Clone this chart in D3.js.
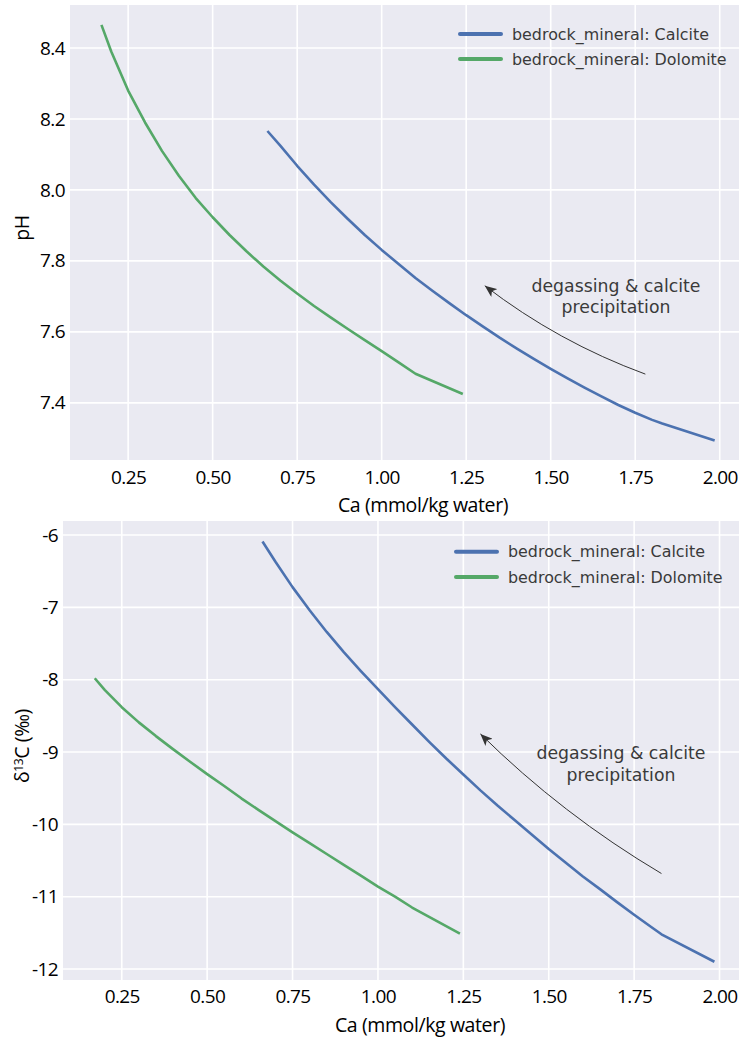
<!DOCTYPE html>
<html>
<head>
<meta charset="utf-8">
<script src="https://cdn.jsdelivr.net/npm/d3@7"></script>
<style>
  body { margin: 0; background: #fff; }
  .tick-label { font-family: "Open Sans", sans-serif; font-size: 19px; letter-spacing: -0.6px; fill: #000; }
  .axis-label { font-family: "Open Sans", sans-serif; font-size: 19.5px; letter-spacing: -0.4px; fill: #000; }
  .legend-text { font-family: "DejaVu Sans", sans-serif; font-size: 15.9px; fill: #3a3a3a; }
  .note-text { font-family: "DejaVu Sans", sans-serif; font-size: 17.3px; fill: #3a3a3a; }
</style>
</head>
<body>
<div id="chart"></div>
<script>
// x values (Ca, mmol/kg water)
const caCalcite = [0.662, 0.70, 0.75, 0.80, 0.85, 0.90, 0.95, 1.00, 1.05, 1.10, 1.15, 1.20, 1.25, 1.30,
  1.35, 1.40, 1.45, 1.50, 1.55, 1.60, 1.65, 1.70, 1.75, 1.80, 1.83, 1.985];
const caDolomite = [0.171, 0.20, 0.25, 0.30, 0.35, 0.40, 0.45, 0.50, 0.55, 0.60, 0.65, 0.70, 0.75, 0.80,
  0.85, 0.90, 0.95, 1.00, 1.05, 1.10, 1.24];
// pH
const phCalcite = [8.166, 8.125, 8.068, 8.015, 7.965, 7.918, 7.873, 7.831, 7.791, 7.752, 7.716, 7.681, 7.647, 7.615,
  7.583, 7.553, 7.524, 7.496, 7.469, 7.443, 7.418, 7.394, 7.372, 7.352, 7.342, 7.294];
const phDolomite = [8.465, 8.39, 8.28, 8.19, 8.11, 8.04, 7.977, 7.923, 7.873, 7.827, 7.784, 7.745, 7.708, 7.673,
  7.640, 7.608, 7.577, 7.546, 7.514, 7.482, 7.425];
// d13C (permil)
const d13cCalcite = [-6.09, -6.37, -6.72, -7.04, -7.34, -7.62, -7.88, -8.13, -8.38, -8.62, -8.86, -9.09, -9.31, -9.53,
  -9.74, -9.94, -10.14, -10.34, -10.53, -10.72, -10.895, -11.075, -11.25, -11.42, -11.52, -11.90];
const d13cDolomite = [-7.98, -8.14, -8.38, -8.59, -8.78, -8.96, -9.135, -9.305, -9.47, -9.64, -9.80, -9.955, -10.11, -10.26,
  -10.41, -10.56, -10.71, -10.86, -11.00, -11.15, -11.51];
// ticks
const xTicks = [0.25, 0.50, 0.75, 1.00, 1.25, 1.50, 1.75, 2.00];
const phTicks = [7.4, 7.6, 7.8, 8.0, 8.2, 8.4];
const d13cTicks = [-12, -11, -10, -9, -8, -7, -6];
const seriesNames = ['bedrock_mineral: Calcite', 'bedrock_mineral: Dolomite'];
const colors = ['#4C72B0', '#55A868'];

const W = 739;
const H = 1040;

const svg = d3.select('#chart')
  .append('svg')
  .attr('width', W)
  .attr('height', H);

// arrowhead
svg.append('defs')
  .append('marker')
  .attr('id', 'head')
  .attr('viewBox', '0 0 12 10')
  .attr('refX', 12)
  .attr('refY', 5)
  .attr('markerWidth', 12)
  .attr('markerHeight', 10)
  .attr('markerUnits', 'userSpaceOnUse')
  .attr('orient', 'auto')
  .append('path')
  .attr('d', 'M0,0 L12,5 L0,10 L3,5 Z')
  .attr('fill', '#333');

function drawPanel(opt) {
  const x = d3.scaleLinear().domain([0.078, 2.057]).range([opt.left, opt.right]);
  const y = d3.scaleLinear().domain(opt.yDomain).range([opt.bottom, opt.top]);

  const g = svg.append('g');

  g.append('rect')
    .attr('x', opt.left)
    .attr('y', opt.top)
    .attr('width', opt.right - opt.left)
    .attr('height', opt.bottom - opt.top)
    .attr('fill', '#EAEAF2');

  // grid
  g.selectAll('.vgrid')
    .data(xTicks)
    .join('line')
    .attr('x1', (d) => x(d))
    .attr('x2', (d) => x(d))
    .attr('y1', opt.top)
    .attr('y2', opt.bottom)
    .attr('stroke', '#fff')
    .attr('stroke-width', 1.6);

  g.selectAll('.hgrid')
    .data(opt.yTicks)
    .join('line')
    .attr('x1', opt.left)
    .attr('x2', opt.right)
    .attr('y1', (d) => y(d))
    .attr('y2', (d) => y(d))
    .attr('stroke', '#fff')
    .attr('stroke-width', 1.6);

  // axes (tick labels only)
  const xAxis = d3.axisBottom(x).tickValues(xTicks).tickFormat(d3.format('.2f')).tickSize(0).tickPadding(opt.xPad);
  const yAxis = d3.axisLeft(y).tickValues(opt.yTicks).tickFormat(opt.yFormat).tickSize(0).tickPadding(opt.yPad);

  const gx = g.append('g').attr('transform', `translate(0, ${opt.bottom})`).call(xAxis);
  const gy = g.append('g').attr('transform', `translate(${opt.left}, 0)`).call(yAxis);
  [gx, gy].forEach((a) => {
    a.select('.domain').remove();
    a.selectAll('text').attr('class', 'tick-label').attr('fill', null);
    a.attr('font-size', null).attr('font-family', null);
  });

  // lines
  const line = d3.line().x((d) => x(d[0])).y((d) => y(d[1]));
  opt.series.forEach((s, i) => {
    g.append('path')
      .datum(d3.zip(s.xs, s.ys))
      .attr('d', line)
      .attr('fill', 'none')
      .attr('stroke', colors[i])
      .attr('stroke-width', 2.6)
      .attr('stroke-linejoin', 'round');
  });

  // legend
  seriesNames.forEach((name, i) => {
    const ly = opt.legendY + i * opt.legendGap;
    g.append('line')
      .attr('x1', opt.legendX)
      .attr('x2', opt.legendX + 41)
      .attr('y1', ly)
      .attr('y2', ly)
      .attr('stroke', colors[i])
      .attr('stroke-width', 4)
      .attr('stroke-linecap', 'round');
    g.append('text')
      .attr('class', 'legend-text')
      .attr('x', opt.legendX + 52)
      .attr('y', ly + 5.5)
      .text(name);
  });

  // annotation arrow, bowed a little below the straight path
  const a = opt.arrow;
  const x0 = x(a.from[0]), y0 = y(a.from[1]);
  const x1 = x(a.to[0]), y1 = y(a.to[1]);
  const len = Math.hypot(x1 - x0, y1 - y0);
  const mx = (x0 + x1) / 2 + ((y1 - y0) / len) * 14;
  const my = (y0 + y1) / 2 - ((x1 - x0) / len) * 14;
  g.append('path')
    .attr('d', `M${x0},${y0} Q${mx},${my} ${x1},${y1}`)
    .attr('fill', 'none')
    .attr('stroke', '#333')
    .attr('stroke-width', 1)
    .attr('marker-end', 'url(#head)');

  const note = g.append('text')
    .attr('class', 'note-text')
    .attr('text-anchor', 'middle')
    .attr('x', opt.noteX)
    .attr('y', opt.noteY);
  note.append('tspan').attr('x', opt.noteX).text('degassing & calcite');
  note.append('tspan').attr('x', opt.noteX).attr('dy', 21.6).text('precipitation');

  // axis titles
  g.append('text')
    .attr('class', 'axis-label')
    .attr('text-anchor', 'middle')
    .attr('x', opt.xLabelX)
    .attr('y', opt.xLabelY)
    .text('Ca (mmol/kg water)');

  const yl = g.append('text')
    .attr('class', 'axis-label')
    .attr('text-anchor', 'middle')
    .attr('transform', `translate(${opt.yLabelX}, ${opt.yLabelY}) rotate(-90)`);
  opt.yLabel(yl);
}

drawPanel({
  left: 70, right: 739, top: 5, bottom: 460,
  yDomain: [7.239, 8.521],
  yTicks: phTicks,
  yFormat: d3.format('.1f'),
  xPad: 11, yPad: 5,
  series: [
    { xs: caCalcite, ys: phCalcite },
    { xs: caDolomite, ys: phDolomite }
  ],
  legendX: 460, legendY: 34, legendGap: 25,
  arrow: { from: [1.78, 7.481], to: [1.305, 7.73] },
  noteX: 616, noteY: 291.7,
  xLabelX: 423, xLabelY: 512,
  yLabelX: 29, yLabelY: 228,
  yLabel: (t) => t.text('pH')
});

drawPanel({
  left: 63, right: 739, top: 521, bottom: 980,
  yDomain: [-12.152, -5.806],
  yTicks: d13cTicks,
  yFormat: (d) => String(d),
  xPad: 10, yPad: 5,
  series: [
    { xs: caCalcite, ys: d13cCalcite },
    { xs: caDolomite, ys: d13cDolomite }
  ],
  legendX: 456, legendY: 551.7, legendGap: 25.3,
  arrow: { from: [1.83, -10.68], to: [1.30, -8.75] },
  noteX: 621, noteY: 759,
  xLabelX: 420, xLabelY: 1032,
  yLabelX: 29, yLabelY: 746,
  yLabel: (t) => {
    t.append('tspan').text('δ');
    t.append('tspan').attr('dy', -6).style('font-size', '12px').text('13');
    t.append('tspan').attr('dy', 6).text('C (‰)');
  }
});
</script>
</body>
</html>
